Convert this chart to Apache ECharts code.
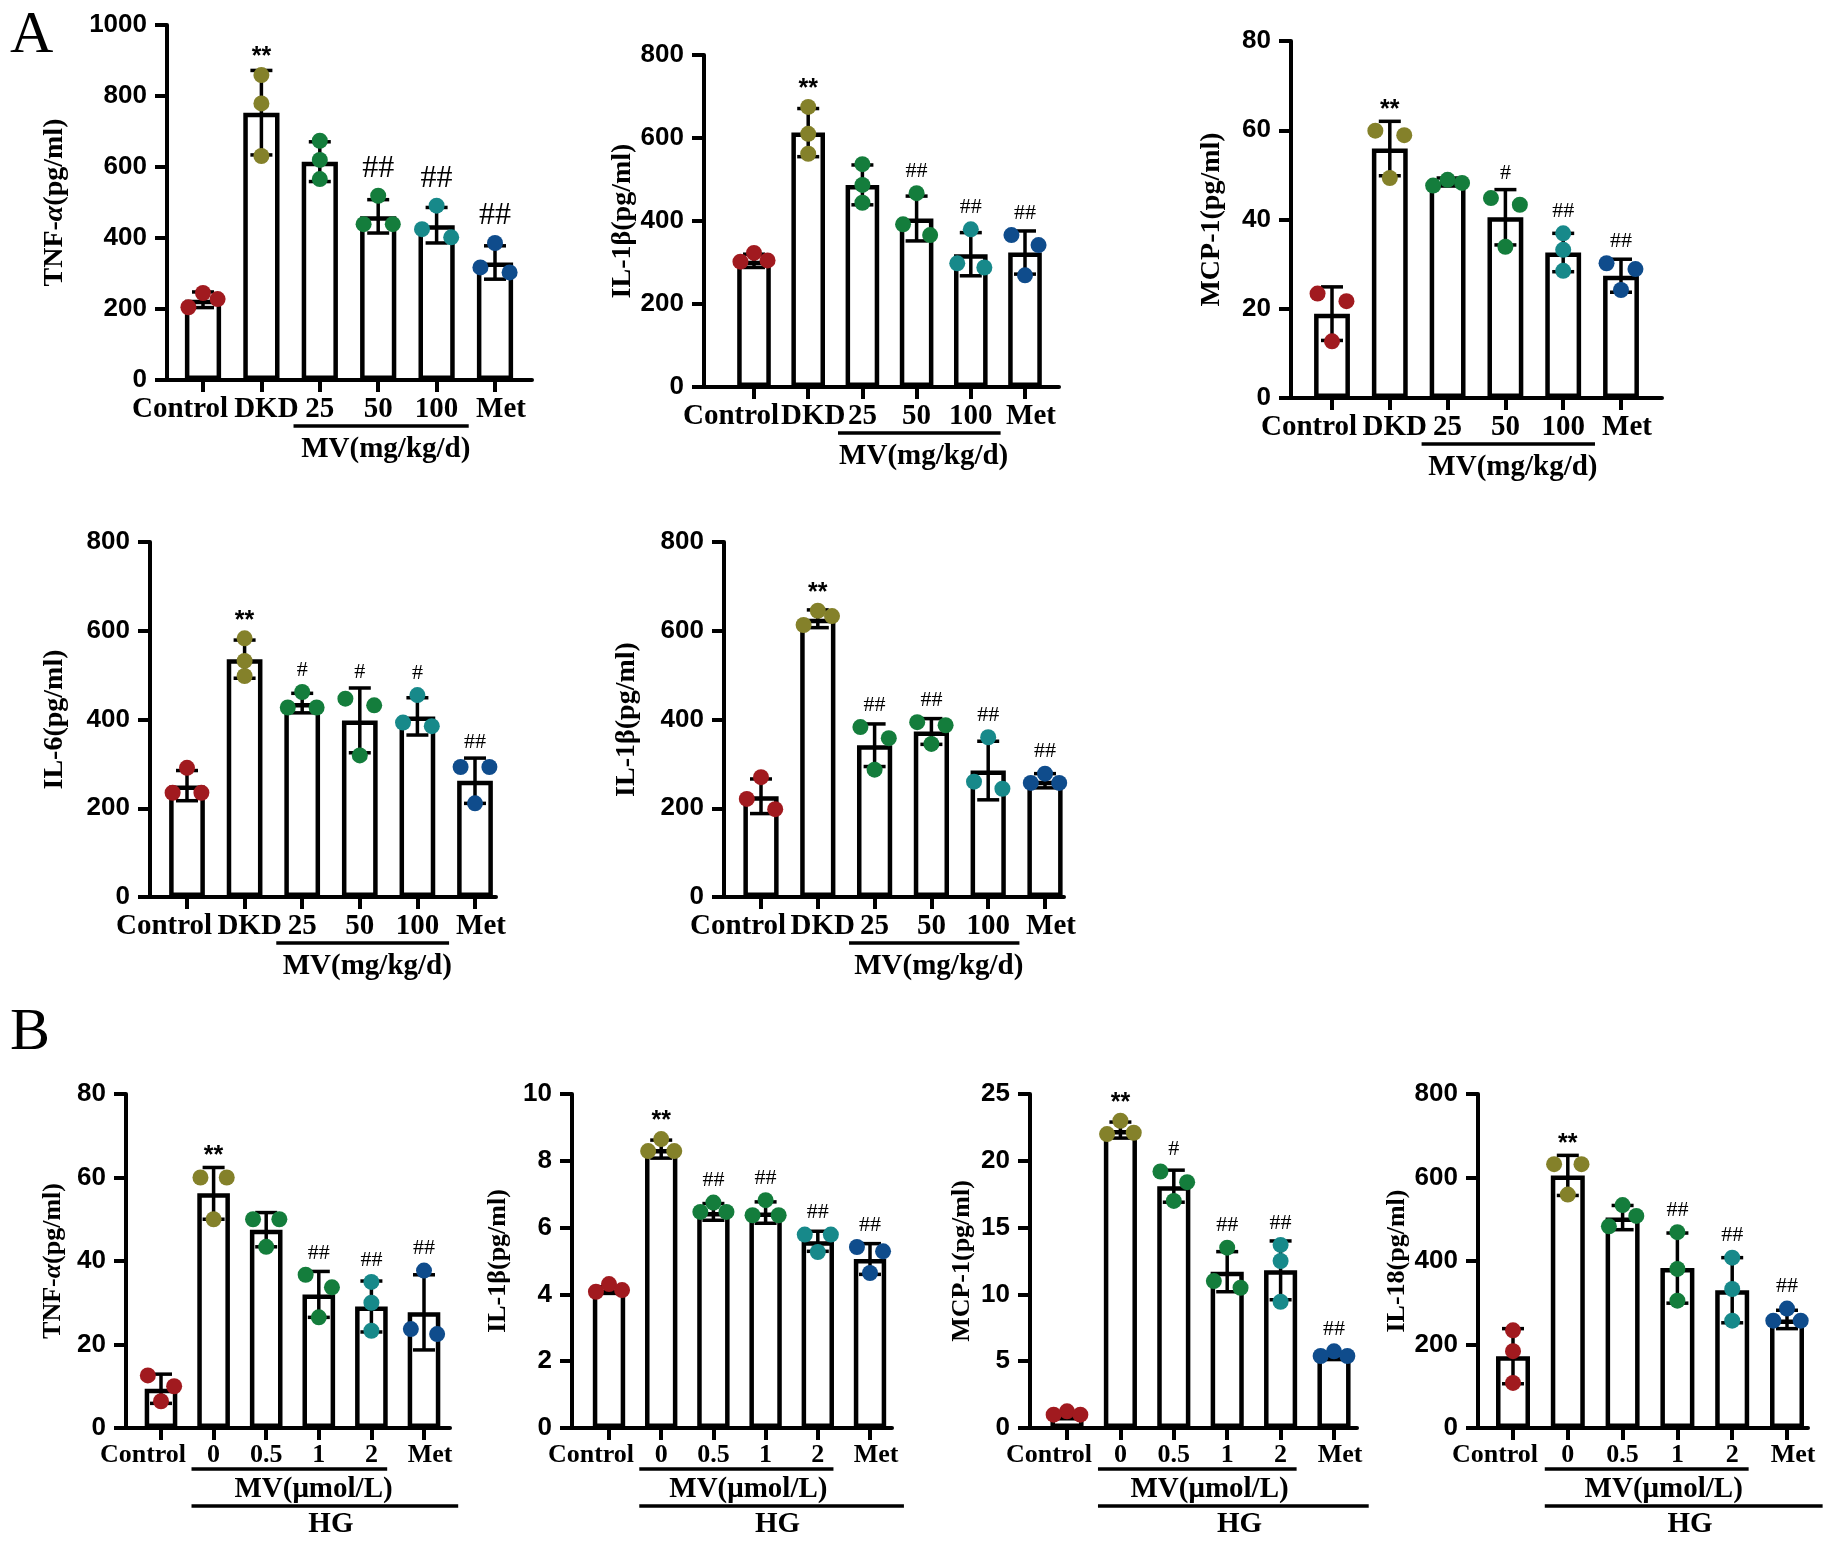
<!DOCTYPE html>
<html>
<head>
<meta charset="utf-8">
<script src="https://cdn.jsdelivr.net/npm/echarts@6.0.0/dist/echarts.min.js"></script>
<style>
  html, body { margin: 0; padding: 0; background: #fff; }
  #chart { width: 1833px; height: 1546px; }
</style>
</head>
<body>
<div id="chart"></div>
<script>
// categories
const catsA = ['Control', 'DKD', '25', '50', '100', 'Met'];
const catsB = ['Control', '0', '0.5', '1', '2', 'Met'];

// A, row 1 : TNF-α
const tnfA_mean = [226, 753, 615, 461, 436, 331];
const tnfA_sd = [22, 119, 56, 47, 50, 47];
const tnfA_pts = [[245, 228, 205], [859, 779, 631], [674, 620, 566], [519, 439, 439], [491, 425, 402], [386, 317, 303]];
const tnfA_sig = ['', '**', '', '##', '##', '##'];

// A, row 1 : IL-1β
const il1bA_mean = [304, 613, 487, 406, 320, 324];
const il1bA_sd = [16, 58, 48, 54, 52, 52];
const il1bA_pts = [[323, 302, 305], [675, 610, 562], [537, 487, 444], [467, 392, 366], [380, 298, 288], [366, 342, 269]];
const il1bA_sig = ['', '**', '', '##', '##', '##'];

// A, row 1 : MCP-1
const mcpA_mean = [18.9, 55.9, 48.4, 40.5, 32.6, 27.4];
const mcpA_sd = [6.0, 6.1, 0.9, 6.2, 4.3, 3.7];
const mcpA_pts = [[23.4, 21.7, 12.7], [59.9, 58.9, 49.3], [47.6, 48.9, 48.2], [44.8, 43.3, 33.9], [36.9, 33.2, 28.5], [30.2, 28.9, 24.2]];
const mcpA_sig = ['', '**', '', '#', '##', '##'];

// A, row 2 : IL-6
const il6A_mean = [251, 536, 437, 398, 407, 262];
const il6A_sd = [34, 43, 22, 73, 42, 51];
const il6A_pts = [[291, 235, 235], [583, 532, 498], [462, 427, 427], [447, 432, 319], [455, 393, 385], [293, 293, 211]];
const il6A_sig = ['', '**', '#', '#', '#', '##'];

// A, row 2 : IL-1β
const il1bA2_mean = [227, 627, 342, 373, 285, 262];
const il1bA2_sd = [39, 20, 48, 29, 66, 16];
const il1bA2_pts = [[270, 221, 198], [645, 633, 613], [383, 358, 287], [394, 387, 345], [360, 260, 244], [278, 257, 257]];
const il1bA2_sig = ['', '**', '##', '##', '##', '##'];

// B : TNF-α
const tnfB_mean = [9.4, 56.2, 47.5, 32.0, 29.1, 27.7];
const tnfB_sd = [3.5, 6.2, 4.1, 5.5, 6.1, 9.0];
const tnfB_pts = [[12.6, 10.0, 6.4], [60.0, 60.0, 50.0], [50.0, 50.0, 43.4], [36.7, 33.7, 26.5], [35.0, 30.0, 23.3], [37.7, 23.7, 22.5]];
const tnfB_sig = ['', '**', '', '##', '##', '##'];

// B : IL-1β
const il1bB_mean = [4.13, 8.35, 6.47, 6.45, 5.59, 5.06];
const il1bB_sd = [0.1, 0.27, 0.25, 0.32, 0.30, 0.46];
const il1bB_pts = [[4.31, 4.08, 4.13], [8.65, 8.29, 8.29], [6.75, 6.47, 6.47], [6.82, 6.37, 6.37], [5.79, 5.79, 5.27], [5.42, 5.29, 4.64]];
const il1bB_sig = ['', '**', '##', '##', '##', '##'];

// B : MCP-1
const mcpB_mean = [0.9, 22.3, 18.1, 11.7, 11.8, 5.34];
const mcpB_sd = [0.15, 0.6, 1.2, 1.5, 2.2, 0.2];
const mcpB_pts = [[1.25, 1.0, 1.0], [23.0, 22.1, 22.0], [19.2, 18.4, 17.0], [13.5, 11.0, 10.5], [13.7, 12.5, 9.45], [5.74, 5.39, 5.39]];
const mcpB_sig = ['', '**', '#', '##', '##', '##'];

// B : IL-18
const il18B_mean = [172, 605, 504, 383, 330, 260];
const il18B_sd = [66, 48, 29, 84, 78, 22];
const il18B_pts = [[234, 184, 108], [632, 632, 559], [534, 508, 483], [469, 381, 305], [408, 333, 257], [286, 257, 257]];
const il18B_sig = ['', '**', '', '##', '##', '##'];

const dotColors = ['#a11a1f', '#84812a', '#147d3c', '#147d3c', '#17898a', '#0f4c8c'];
const SERIF = '"Liberation Serif", "Times New Roman", serif';
const SANS = '"Liberation Sans", Arial, sans-serif';

// x0/x1: axis line ends, c0/c5: first and last category centre, yTop/yBot: max and zero
const panels = [
  { part: 'A', cats: catsA, mean: tnfA_mean, sd: tnfA_sd, pts: tnfA_pts, sig: tnfA_sig, name: 'TNF-{i|α}(pg/ml)', max: 1000, step: 200, x0: 167, x1: 532, c0: 203, c5: 495, yTop: 25, yBot: 380, nameGap: 98, hash: 32 },
  { part: 'A', cats: catsA, mean: il1bA_mean, sd: il1bA_sd, pts: il1bA_pts, sig: il1bA_sig, name: 'IL-1β(pg/ml)', max: 800, step: 200, x0: 704, x1: 1059, c0: 754, c5: 1025, yTop: 55, yBot: 387, nameGap: 60, hash: 22 },
  { part: 'A', cats: catsA, mean: mcpA_mean, sd: mcpA_sd, pts: mcpA_pts, sig: mcpA_sig, name: 'MCP-1(pg/ml)', max: 80, step: 20, x0: 1291, x1: 1662, c0: 1332, c5: 1621, yTop: 41, yBot: 398, nameGap: 65, hash: 22 },
  { part: 'A', cats: catsA, mean: il6A_mean, sd: il6A_sd, pts: il6A_pts, sig: il6A_sig, name: 'IL-6(pg/ml)', max: 800, step: 200, x0: 150, x1: 496, c0: 187, c5: 475, yTop: 542, yBot: 897, nameGap: 81, hash: 22 },
  { part: 'A', cats: catsA, mean: il1bA2_mean, sd: il1bA2_sd, pts: il1bA2_pts, sig: il1bA2_sig, name: 'IL-1β(pg/ml)', max: 800, step: 200, x0: 724, x1: 1064, c0: 761, c5: 1045, yTop: 542, yBot: 897, nameGap: 83, hash: 22 },
  { part: 'B', cats: catsB, mean: tnfB_mean, sd: tnfB_sd, pts: tnfB_pts, sig: tnfB_sig, name: 'TNF-{i|α}(pg/ml)', max: 80, step: 20, x0: 126, x1: 450, c0: 161, c5: 424, yTop: 1094, yBot: 1428, nameGap: 60, hash: 22, mvShift: -0.1 },
  { part: 'B', cats: catsB, mean: il1bB_mean, sd: il1bB_sd, pts: il1bB_pts, sig: il1bB_sig, name: 'IL-1β(pg/ml)', max: 10, step: 2, x0: 572, x1: 892, c0: 609, c5: 870, yTop: 1094, yBot: 1428, nameGap: 61, hash: 22, mvShift: -0.33 },
  { part: 'B', cats: catsB, mean: mcpB_mean, sd: mcpB_sd, pts: mcpB_pts, sig: mcpB_sig, name: 'MCP-1(pg/ml)', max: 25, step: 5, x0: 1030, x1: 1357, c0: 1067, c5: 1334, yTop: 1094, yBot: 1428, nameGap: 55, hash: 22, mvShift: -0.33 },
  { part: 'B', cats: catsB, mean: il18B_mean, sd: il18B_sd, pts: il18B_pts, sig: il18B_sig, name: 'IL-18(pg/ml)', max: 800, step: 200, x0: 1478, x1: 1808, c0: 1513, c5: 1787, yTop: 1094, yBot: 1428, nameGap: 62, hash: 22, mvShift: -0.25 }
];

const DOT_R = 8;

// GraphPad-like spreading of overlapping dots
function jitter(ys, r, d) {
  const order = ys.map((_, k) => k).sort((a, b) => ys[a] - ys[b]);
  const offs = ys.map(() => 0);
  const clusters = [];
  let cur = [order[0]];
  for (let j = 1; j < order.length; j++) {
    if (Math.abs(ys[order[j]] - ys[order[j - 1]]) < 2 * r * 0.85) cur.push(order[j]);
    else { clusters.push(cur); cur = [order[j]]; }
  }
  clusters.push(cur);
  const pattern = { 1: [0], 2: [-d, d], 3: [0, d, -d] };
  clusters.forEach(c => c.forEach((k, j) => { offs[k] = pattern[c.length][j]; }));
  return offs;
}

const option = { animation: false, backgroundColor: '#fff', grid: [], xAxis: [], yAxis: [], series: [] };

panels.forEach((p, n) => {
  const band = (p.c5 - p.c0) / 5;
  const isA = p.part === 'A';
  const catSize = isA ? 29 : 26;
  const nameSize = isA ? 28 : 26;
  const shift = isA ? 23 : 18;
  const mi = 2 * n, fi = 2 * n + 1;

  option.grid.push({ left: p.c0 - band / 2, top: p.yTop, width: band * 6, height: p.yBot - p.yTop, outerBoundsMode: 'none' });
  option.grid.push({ left: p.x0, top: p.yTop, width: p.x1 - p.x0, height: p.yBot - p.yTop, outerBoundsMode: 'none' });

  const tok = pad => ({ fontFamily: SERIF, fontWeight: 'bold', fontSize: catSize, color: '#000', padding: pad });
  option.xAxis.push({
    type: 'category', gridIndex: mi, data: p.cats,
    axisLine: { show: false },
    axisTick: { show: true, alignWithLabel: true, length: 12, lineStyle: { color: '#000', width: 4 } },
    axisLabel: {
      interval: 0, margin: isA ? 15 : 14, color: '#000', fontFamily: SERIF, fontWeight: 'bold', fontSize: catSize,
      formatter: v => v === 'Control' ? '{c|Control}' : (v === 'Met' ? '{m|Met}' : (v === 'DKD' ? '{d|DKD}' : v)),
      rich: { c: tok([0, shift * 2, 0, 0]), m: tok([0, 0, 0, 12]), d: tok([0, 0, 0, 10]) }
    },
    splitLine: { show: false }
  });
  option.xAxis.push({
    type: 'value', gridIndex: fi, min: 0, max: 1,
    axisLine: { show: true, onZero: false, lineStyle: { color: '#000', width: 4 } },
    axisTick: { show: false }, axisLabel: { show: false }, splitLine: { show: false }
  });
  option.yAxis.push({ type: 'value', gridIndex: mi, min: 0, max: p.max, show: false });
  option.yAxis.push({
    type: 'value', gridIndex: fi, min: 0, max: p.max, interval: p.step,
    name: p.name, nameLocation: 'middle', nameRotate: 90, nameGap: p.nameGap,
    nameTextStyle: {
      fontFamily: SERIF, fontWeight: 'bold', fontSize: nameSize, color: '#000',
      rich: { i: { fontFamily: SERIF, fontWeight: 'bold', fontStyle: 'italic', fontSize: nameSize, color: '#000' } }
    },
    axisLine: { show: true, lineStyle: { color: '#000', width: 4 } },
    axisTick: { show: true, length: 12, lineStyle: { color: '#000', width: 4 } },
    axisLabel: { margin: 20, color: '#000', fontFamily: SANS, fontWeight: 'bold', fontSize: 26, formatter: v => String(v) },
    splitLine: { show: false }
  });

  option.series.push({
    type: 'bar', xAxisIndex: mi, yAxisIndex: mi, data: p.mean, barWidth: '62%', silent: true,
    itemStyle: { color: '#fff', borderColor: '#000', borderWidth: 4.5 }
  });

  option.series.push({
    type: 'custom', xAxisIndex: mi, yAxisIndex: mi, silent: true, z: 3,
    encode: { x: 0, y: 1 },
    data: p.mean.map((m, i) => [i, m, p.sd[i]]),
    renderItem: (params, api) => {
      const i = api.value(0), m = api.value(1), s = api.value(2);
      const top = api.coord([i, m + s]);
      const bot = api.coord([i, m - s]);
      const x = top[0], cw = 11;
      const line = { stroke: '#000', lineWidth: 3.5 };
      const children = [
        { type: 'line', shape: { x1: x, y1: top[1], x2: x, y2: bot[1] }, style: line },
        { type: 'line', shape: { x1: x - cw, y1: top[1], x2: x + cw, y2: top[1] }, style: line },
        { type: 'line', shape: { x1: x - cw, y1: bot[1], x2: x + cw, y2: bot[1] }, style: line }
      ];
      const mark = p.sig[i];
      if (mark) {
        const ptTop = api.coord([i, Math.max.apply(null, p.pts[i])])[1] - DOT_R;
        const yText = Math.min(top[1] - 2, ptTop) - 3;
        const star = mark.indexOf('*') >= 0;
        children.push({
          type: 'text',
          style: {
            text: mark, x: x, y: star ? yText + 6 : yText, align: 'center', verticalAlign: 'bottom',
            fontFamily: star ? SANS : SERIF, fontWeight: star ? 'bold' : 'normal',
            fontSize: star ? 25 : p.hash, fill: '#000'
          }
        });
      }
      return { type: 'group', children: children };
    }
  });

  const dots = [];
  p.pts.forEach((g, i) => g.forEach((v, k) => dots.push([i, v, k])));
  option.series.push({
    type: 'custom', xAxisIndex: mi, yAxisIndex: mi, silent: true, z: 4,
    encode: { x: 0, y: 1 },
    data: dots,
    renderItem: (params, api) => {
      const i = api.value(0), v = api.value(1), k = api.value(2);
      const ys = p.pts[i].map(val => api.coord([i, val])[1]);
      const offs = jitter(ys, DOT_R, band * 0.25);
      const c = api.coord([i, v]);
      return { type: 'circle', shape: { cx: c[0] + offs[k], cy: c[1], r: DOT_R }, style: { fill: dotColors[i] } };
    }
  });
});

const chart = echarts.init(document.getElementById('chart'), null, { renderer: 'canvas' });
chart.setOption(option);

// group brackets under the category labels, placed from the axes
const gfx = [
  { type: 'text', x: 10, y: 6, style: { text: 'A', fontFamily: SERIF, fontSize: 60, fill: '#000', verticalAlign: 'top' } },
  { type: 'text', x: 10, y: 1003, style: { text: 'B', fontFamily: SERIF, fontSize: 60, fill: '#000', verticalAlign: 'top' } }
];
panels.forEach((p, n) => {
  const cx = i => chart.convertToPixel({ xAxisIndex: 2 * n }, i);
  const y0 = chart.convertToPixel({ yAxisIndex: 2 * n }, 0);
  const b = cx(1) - cx(0);
  const line = { stroke: '#000', lineWidth: 3.5 };
  const txt = (s, x, y, size) => ({
    type: 'text', x: x, y: y,
    style: { text: s, align: 'center', verticalAlign: 'middle', fontFamily: SERIF, fontWeight: 'bold', fontSize: size, fill: '#000' }
  });
  if (p.part === 'A') {
    gfx.push({ type: 'line', shape: { x1: cx(2) - 0.45 * b, y1: y0 + 46, x2: cx(4) + 0.55 * b, y2: y0 + 46 }, style: line });
    gfx.push(txt('MV(mg/kg/d)', cx(3) + 0.13 * b, y0 + 70, 29));
  } else {
    gfx.push({ type: 'line', shape: { x1: cx(1) - 0.42 * b, y1: y0 + 41, x2: cx(4) + 0.3 * b, y2: y0 + 41 }, style: line });
    gfx.push(txt('MV(μmol/L)', cx(3) + p.mvShift * b, y0 + 62, 29));
    gfx.push({ type: 'line', shape: { x1: cx(1) - 0.42 * b, y1: y0 + 78, x2: cx(5) + 0.65 * b, y2: y0 + 78 }, style: line });
    gfx.push(txt('HG', cx(3) + 0.23 * b, y0 + 97, 29));
  }
});
chart.setOption({ graphic: gfx });

window.addEventListener('resize', () => chart.resize());
</script>
</body>
</html>
